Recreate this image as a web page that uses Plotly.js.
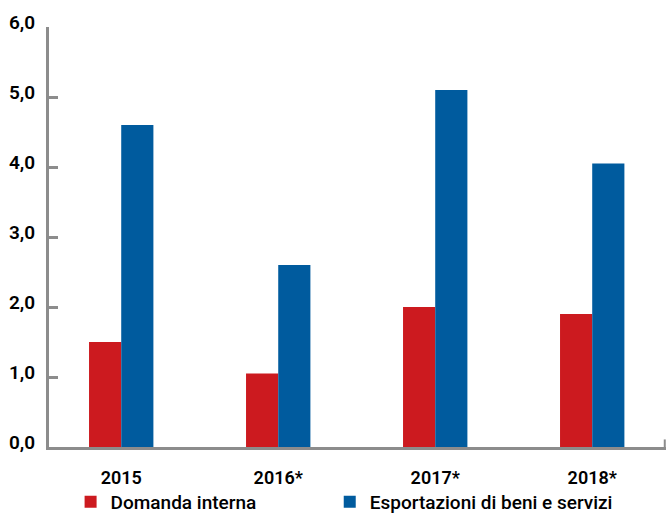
<!DOCTYPE html>
<html>
<head>
<meta charset="utf-8">
<script src="https://cdn.plot.ly/plotly-3.0.1.min.js"></script>
<style>html,body{margin:0;padding:0;background:#fff;}#chart{width:667px;height:522px;}</style>
</head>
<body>
<div id="chart"></div>
<script>
const categories = ["2015", "2016*", "2017*", "2018*"];
const domandaInterna = [1.5, 1.05, 2.0, 1.9];
const esportazioni = [4.6, 2.6, 5.1, 4.05];
const seriesNames = ["Domanda interna", "Esportazioni di beni e servizi"];
const yTickVals = [0, 1, 2, 3, 4, 5, 6];
const yTickText = ["0,0", "1,0", "2,0", "3,0", "4,0", "5,0", "6,0"];

const FONT = "Roboto, 'Open Sans', sans-serif";
const AXIS_GRAY = "#8c8c8c";

const traces = [
  {type: "bar", name: seriesNames[0], x: categories, y: domandaInterna,
   marker: {color: "#CC1A1F"}, hoverinfo: "y", legend: "legend"},
  {type: "bar", name: seriesNames[1], x: categories, y: esportazioni,
   marker: {color: "#005B9E"}, hoverinfo: "y", legend: "legend2"}
];

const legendFont = {family: FONT, size: 19, color: "#000", weight: 500};

const layout = {
  width: 667, height: 522,
  margin: {l: 49, r: 1, t: 27, b: 75, pad: 0, autoexpand: false},
  paper_bgcolor: "#fff", plot_bgcolor: "#fff",
  font: {family: FONT, size: 18, color: "#000", weight: 500},
  barmode: "group", bargap: 0.59, bargroupgap: 0,
  showlegend: true,
  legend: {orientation: "h", x: 0.035, xanchor: "left", y: -0.131, yanchor: "middle",
           font: legendFont, bgcolor: "rgba(0,0,0,0)"},
  legend2: {orientation: "h", x: 0.455, xanchor: "left", y: -0.131, yanchor: "middle",
            font: legendFont, bgcolor: "rgba(0,0,0,0)"},
  xaxis: {type: "category", range: [-0.46, 3.47], showgrid: false, zeroline: false,
          showline: true, linecolor: AXIS_GRAY, linewidth: 3, ticks: "",
          tickfont: {family: FONT, size: 18, color: "#000", weight: 600},
          ticklabelstandoff: 12, fixedrange: true},
  yaxis: {range: [0, 6], tickvals: yTickVals, ticktext: yTickText,
          showgrid: false, zeroline: false, showline: true, linecolor: AXIS_GRAY, linewidth: 3,
          ticks: "inside", ticklen: 9, tickwidth: 3, tickcolor: AXIS_GRAY,
          tickfont: {family: FONT, size: 19, color: "#000", weight: 600},
          ticklabelstandoff: 7, ticklabelshift: -5, fixedrange: true},
  shapes: [
    {type: "line", xref: "paper", yref: "paper", x0: 0.998, x1: 0.998, y0: 0, y1: 0.018,
     line: {color: AXIS_GRAY, width: 2}}
  ]
};

Plotly.newPlot("chart", traces, layout, {displayModeBar: false, staticPlot: true});
</script>
</body>
</html>
